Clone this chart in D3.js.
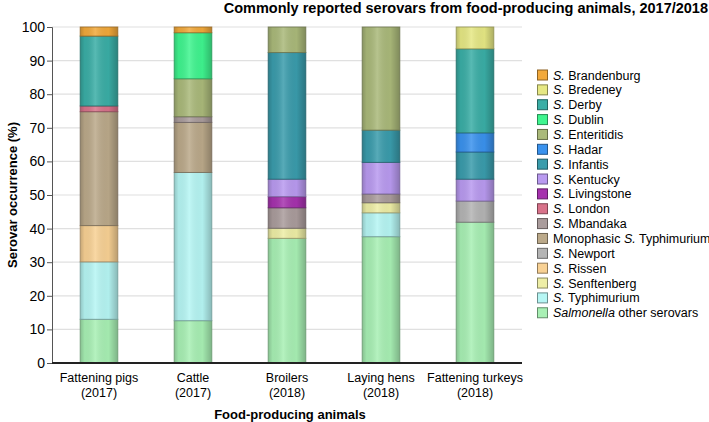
<!DOCTYPE html>
<html><head><meta charset="utf-8">
<script src="https://cdn.jsdelivr.net/npm/d3@7"></script>
<style>
body{margin:0;background:#fff;}
text{font-family:"Liberation Sans",Arial,sans-serif;fill:#000;}
</style></head>
<body><svg id="c" width="709" height="422"></svg>
<script>
const categories = ["Fattening pigs|(2017)","Cattle|(2017)","Broilers|(2018)","Laying hens|(2018)","Fattening turkeys|(2018)"];
// legend order (top to bottom); stacked bottom-up in reverse order
const serovars = ["Brandenburg","Bredeney","Derby","Dublin","Enteritidis","Hadar","Infantis","Kentucky","Livingstone","London","Mbandaka","Monophasic","Newport","Rissen","Senftenberg","Typhimurium","Other"];
const colors = ["#f2a93b","#e6e884","#3aaea6","#3ff58f","#aab97a","#3a92ee","#3a9cac","#b99af0","#a632ae","#d8728a","#aa9c9c","#bba98a","#b4b4b4","#f8d194","#eeeea6","#b6f6f4","#a8f0b4"];
const tickLabels = [0,10,20,30,40,50,60,70,80,90,100];
const pigs    = [2.7,0,20.8,0,0,0,0,0,0,1.7,0,33.9,0,10.8,0,17.1,13.0];
const cattle  = [1.7,0,0,13.7,11.3,0,0,0,0,0,1.7,14.9,0,0,0,44.1,12.6];
const broilers= [0,0,0,0,7.6,0,37.7,5.2,3.3,0,6.1,0,0,0,3.0,0,37.1];
const hens    = [0,0,0,0,30.7,0,9.6,9.4,0,0,2.6,0,0,0,3.0,7.1,37.6];
const turkeys = [0,6.5,25.0,0,0,5.7,8.1,6.5,0,0,0,0,6.3,0,0,0,41.9];
const values = [pigs,cattle,broilers,hens,turkeys];

const svg = d3.select("#c");
const m = {l:52,r:187,t:27,b:59};
const W = 709-m.l-m.r, H = 422-m.t-m.b;
const x = d3.scaleBand().domain(categories).range([m.l,m.l+W]).paddingInner(0.6).paddingOuter(0.3);
const y = d3.scaleLinear().domain([0,100]).range([m.t+H,m.t]);

const defs = svg.append("defs");
const g = defs.append("linearGradient").attr("id","shade").attr("x1","0").attr("x2","1").attr("y1","0").attr("y2","0");
g.append("stop").attr("offset","0").attr("stop-color","#000").attr("stop-opacity",0.2);
g.append("stop").attr("offset","0.12").attr("stop-color","#000").attr("stop-opacity",0.05);
g.append("stop").attr("offset","0.4").attr("stop-color","#fff").attr("stop-opacity",0.15);
g.append("stop").attr("offset","0.75").attr("stop-color","#000").attr("stop-opacity",0.03);
g.append("stop").attr("offset","1").attr("stop-color","#000").attr("stop-opacity",0.25);

// grid
svg.append("g").selectAll("line").data(tickLabels.filter(d=>d>0)).join("line")
  .attr("x1",m.l).attr("x2",m.l+W).attr("y1",d=>y(d)).attr("y2",d=>y(d))
  .attr("stroke","#e0e0e0").attr("stroke-width",1.2);

// stacks
const keys = d3.range(serovars.length).reverse();
const rows = categories.map((c,i)=>{const o={cat:c}; serovars.forEach((s,j)=>o[j]=values[i][j]); return o;});
const stack = d3.stack().keys(keys)(rows);
const bars = svg.append("g");
stack.forEach(layer=>{
  const k = layer.key;
  layer.forEach(seg=>{
    const h = y(seg[0])-y(seg[1]);
    if(h<=0.01) return;
    const bx = x(seg.data.cat), bw = x.bandwidth();
    bars.append("rect").attr("x",bx).attr("y",y(seg[1])).attr("width",bw).attr("height",h)
      .attr("fill",colors[k]);
    bars.append("rect").attr("x",bx).attr("y",y(seg[1])).attr("width",bw).attr("height",h)
      .attr("fill","url(#shade)")
      .attr("stroke",d3.color(colors[k]).darker(1.3)).attr("stroke-width",1).attr("stroke-opacity",0.8);
  });
});

// y axis
const ya = svg.append("g").attr("transform",`translate(${m.l},0)`)
  .call(d3.axisLeft(y).tickValues(tickLabels).tickSize(5).tickPadding(2));
ya.select(".domain").attr("stroke","#555").attr("stroke-width",1);
ya.selectAll(".tick line").attr("stroke","#555");
ya.selectAll("text").attr("font-size","14px").attr("fill","#111");

// x axis line
svg.append("line").attr("x1",m.l).attr("x2",m.l+W).attr("y1",y(0)).attr("y2",y(0))
  .attr("stroke","#222").attr("stroke-width",2);

// x labels
const xl = svg.append("g");
categories.forEach(c=>{
  const parts = c.split("|");
  const cx = x(c)+x.bandwidth()/2;
  const t = xl.append("text").attr("x",cx).attr("y",382).attr("text-anchor","middle").attr("font-size","12.5px");
  t.append("tspan").attr("x",cx).text(parts[0]);
  t.append("tspan").attr("x",cx).attr("dy","15").text(parts[1]);
});

svg.append("text").attr("x",290).attr("y",419).attr("text-anchor","middle")
  .attr("font-size","13px").attr("font-weight","bold").text("Food-producing animals");
svg.append("text").attr("transform",`translate(17,${y(50)}) rotate(-90)`).attr("text-anchor","middle")
  .attr("font-size","13px").attr("font-weight","bold").text("Serovar occurrence (%)");
svg.append("text").attr("x",708).attr("y",13).attr("text-anchor","end")
  .attr("font-size","14.5px").attr("font-weight","bold").text("Commonly reported serovars from food-producing animals, 2017/2018");

// legend
const lg = svg.append("g");
serovars.forEach((s,i)=>{
  const ly = 75 + i*14.86;
  lg.append("rect").attr("x",537.5).attr("y",ly-5).attr("width",10).attr("height",10)
    .attr("fill",colors[i]).attr("stroke",d3.color(colors[i]).darker(1.5)).attr("stroke-width",1);
  const t = lg.append("text").attr("x",553).attr("y",ly+4.5).attr("font-size","12.5px");
  if(s==="Other"){
    t.append("tspan").attr("font-style","italic").text("Salmonella");
    t.append("tspan").text(" other serovars");
  } else if(s==="Monophasic"){
    t.append("tspan").text("Monophasic ");
    t.append("tspan").attr("font-style","italic").text("S.");
    t.append("tspan").text(" Typhimurium");
  } else {
    t.append("tspan").attr("font-style","italic").text("S.");
    t.append("tspan").text(" "+s);
  }
});
</script></body></html>
